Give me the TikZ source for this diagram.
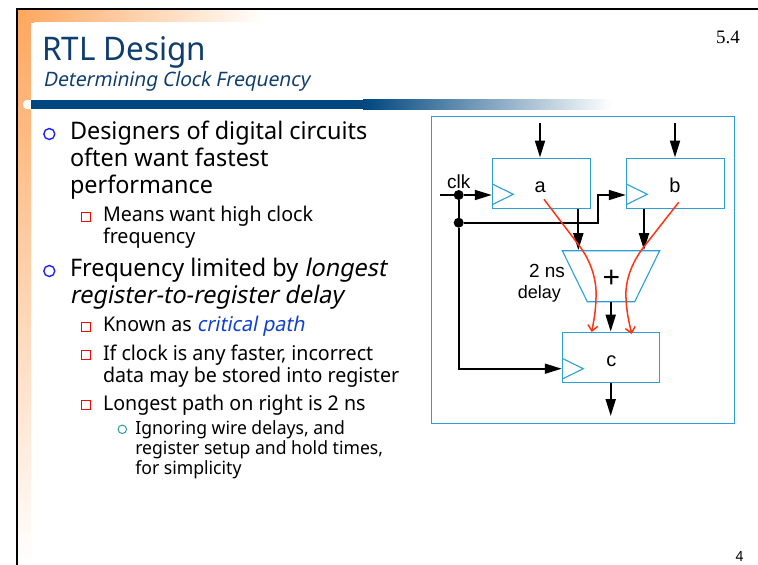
\documentclass[tikz,border=0pt]{standalone}
\usepackage{fontspec}
\setmainfont[FakeStretch=0.967,ItalicFont={Noto Sans},ItalicFeatures={FakeSlant=0.2,FakeStretch=0.967}]{Noto Sans}
\newfontfamily\arialf{Liberation Sans}
\newfontfamily\timesf{Liberation Serif}
\usetikzlibrary{arrows.meta,shapes.geometric}
\definecolor{orangeg}{HTML}{FFA75F}
\definecolor{barblue}{HTML}{00467F}
\definecolor{titleblue}{HTML}{0F3D6E}
\definecolor{regblue}{HTML}{2C9FDB}
\definecolor{pathred}{HTML}{FF3412}
\definecolor{bulblue}{HTML}{2222FF}
\definecolor{bulteal}{HTML}{2F9F9F}
\definecolor{critblue}{HTML}{0F3FD0}
\newcommand\mlines[2]{\vtop{\baselineskip=#1pt\lineskip=0pt\lineskiplimit=-1000pt\halign{##\hfil\cr#2\crcr}}}
\tikzset{
  txt/.style={anchor=base west,inner sep=0pt,outer sep=0pt,text=black},
  lone/.style={txt,font=\fontsize{24.2}{26}\selectfont},
  ltwo/.style={txt,font=\fontsize{20.3}{22}\selectfont},
  lthree/.style={txt,font=\fontsize{18.2}{20}\selectfont},
  bulone/.style={circle,draw=bulblue,line width=1.4pt,minimum size=11pt,inner sep=0pt},
  bultwo/.style={rectangle,draw=red,line width=1.3pt,minimum size=9pt,inner sep=0pt},
  bulthree/.style={circle,draw=bulteal,line width=1pt,minimum size=8.5pt,inner sep=0pt},
  reg/.style={rectangle,draw=regblue,line width=1.1pt,inner sep=0pt,minimum height=50.7pt},
  lab/.style={inner sep=0pt,font=\arialf\fontsize{20}{22}\selectfont},
  data/.style={draw=black,line width=2pt,-{Triangle[length=17pt,width=10pt]}},
  clockw/.style={draw=black,line width=1.7pt},
  clockarr/.style={clockw,-{Triangle[length=17pt,width=10pt]}},
  path/.style={draw=pathred,line width=1.5pt,-{Straight Barb[length=5.5pt,width=10pt]}},
  junct/.style={circle,fill=black,inner sep=0pt,minimum size=10pt},
}
\begin{document}
\begin{tikzpicture}[x=1pt,y=-1pt]
\useasboundingbox (0,0) rectangle (758,565);
\fill[white] (0,0) rectangle (758,565);
% background decoration
\shade[top color=orangeg,bottom color=white] (18,10) rectangle (31,565);
\shade[left color=orangeg,right color=white] (18,10) rectangle (265,22);
\fill[white] (31,60) {[rounded corners=5pt] -- (31,22)} -- (270,22) -- (270,60) -- cycle;
\fill[white] (31,60) rectangle (120,100);
\fill[white,rounded corners=4pt] (23,100) rectangle (40,109);
\fill[barblue] (31,100) rectangle (364,109);
\shade[left color=barblue,right color=white] (363,99) rectangle (612,109);
\draw[black,line width=2.2pt] (758,9) -- (17.2,9) -- (17.2,565);
% titles
\node[txt,text=titleblue,font=\fontsize{32.5}{35}\selectfont] (title) at (42,60) {RTL Design};
\node[txt,text=titleblue,font=\itshape\fontsize{19.9}{22}\selectfont] (subtitle) at (43,86) {Determining Clock Frequency};
\node[txt,font=\timesf\fontsize{19}{21}\selectfont] (secnum) at (716,43.3) {5.4};
\node[txt,font=\fontsize{14}{16}\selectfont] (pagenum) at (735.5,561.7) {4};
% bullets
\node[bulone] (b1) at (49.3,134) {};
\node[lone] (t1) at (70,139.7) {\mlines{26.7}{Designers of digital circuits\cr often want fastest\cr performance}};
\node[bultwo] (b2) at (85.8,216.7) {};
\node[ltwo] (t2) at (103,221.7) {\mlines{21.7}{Means want high clock\cr frequency}};
\node[bulone] (b3) at (49.3,271) {};
\node[lone] (t3) at (70,276.7) {\mlines{26.7}{Frequency limited by \textit{longest}\cr \textit{register-to-register delay}}};
\node[bultwo] (b4) at (85.8,326.7) {};
\node[ltwo] (t4) at (103,331.7) {Known as \textcolor{critblue}{\textit{critical path}}};
\node[bultwo] (b5) at (85.8,355) {};
\node[ltwo] (t5) at (103,360) {\mlines{22.3}{If clock is any faster, incorrect\cr data may be stored into register}};
\node[bultwo] (b6) at (85.8,405) {};
\node[ltwo] (t6) at (103,410) {Longest path on right is 2 ns};
\node[bulthree] (b7) at (122.3,429.3) {};
\node[lthree] (t7) at (135.3,434) {\mlines{20}{Ignoring wire delays, and\cr register setup and hold times,\cr for simplicity}};
% circuit frame
\node[rectangle,draw=regblue,line width=1pt,minimum width=302.6pt,minimum height=307pt,inner sep=0pt] (frame) at (583,269.5) {};
% registers
\node[reg,minimum width=98pt] (a) at (541.3,183.4) {};
\node[reg,minimum width=98pt] (b) at (675.3,183.4) {};
\node[reg,minimum width=97.4pt] (c) at (611,357.5) {};
\node[lab] (alab) at (540.3,187) {a};
\node[lab] (blab) at (675,185.5) {b};
\node[lab] (clab) at (611.3,361.5) {c};
\foreach \r/\cx/\cy in {a/492.3/194.3,b/626.3/194.3,c/562.3/368.7}{
  \draw[regblue,line width=1.1pt] (\cx,\cy-10.3) -- (\cx+21,\cy) -- (\cx,\cy+10.3);
}
% adder
\node[trapezium,draw=regblue,line width=1.1pt,trapezium angle=63.9,shape border rotate=180,trapezium stretches=true,minimum width=97.4pt,minimum height=51pt,inner sep=0pt] (add) at (611,276.2) {\phantom{+}};
\node[inner sep=0pt,font=\arialf\fontsize{30}{32}\selectfont] (plus) at (611.3,279) {+};
\node[lab,anchor=center,font=\arialf\fontsize{19}{21}\selectfont] (delay1) at (547,271.3) {2 ns};
\node[lab,anchor=center,font=\arialf\fontsize{18}{20}\selectfont] (delay2) at (539.3,294.3) {delay};
\node[lab,font=\arialf\fontsize{19}{21}\selectfont] (clk) at (458.7,181.7) {clk};
% free ends and junctions
\coordinate (ina) at (540,123);
\coordinate (inb) at (675,123);
\coordinate (clkin) at (440,195);
\coordinate (outc) at (610.7,416);
\coordinate (aout) at (578.3,0);
\coordinate (bout) at (644,0);
\coordinate (mid) at (610.7,0);
\node[junct] (j1) at (458.7,195) {};
\node[junct] (j2) at (458.7,222.7) {};
\coordinate (bend) at (597.7,195);
% data connectors
\draw[data] (ina) -- (ina |- a.north);
\draw[data] (inb) -- (inb |- b.north);
\draw[data] (aout |- a.south) -- (aout |- add.north);
\draw[data] (bout |- b.south) -- (bout |- add.north);
\draw[data] (mid |- add.south) -- (mid |- c.north);
\draw[data] (mid |- c.south) -- (outc);
% clock connectors
\draw[clockarr] (clkin) -- (j1) -- (a.west |- j1);
\draw[clockw] (j1) -- (j2);
\draw[clockarr] (j2) -- (j2 -| bend) -- (bend) -- (b.west |- bend);
\draw[clockarr] (j2) -- (j2 |- 0,368.7) -- (c.west |- 0,368.7);
% critical paths
\draw[path] (544,199.3) -- (580,246.7) .. controls (592,263) and (597,282) .. (596,298) .. controls (595.7,312) and (593.5,322) .. (591.7,332);
\draw[path] (678.7,202.3) -- (642.7,248.3) .. controls (632,263) and (625,280) .. (626,298) .. controls (626.5,312) and (629,322) .. (631.7,334);
\end{tikzpicture}
\end{document}
